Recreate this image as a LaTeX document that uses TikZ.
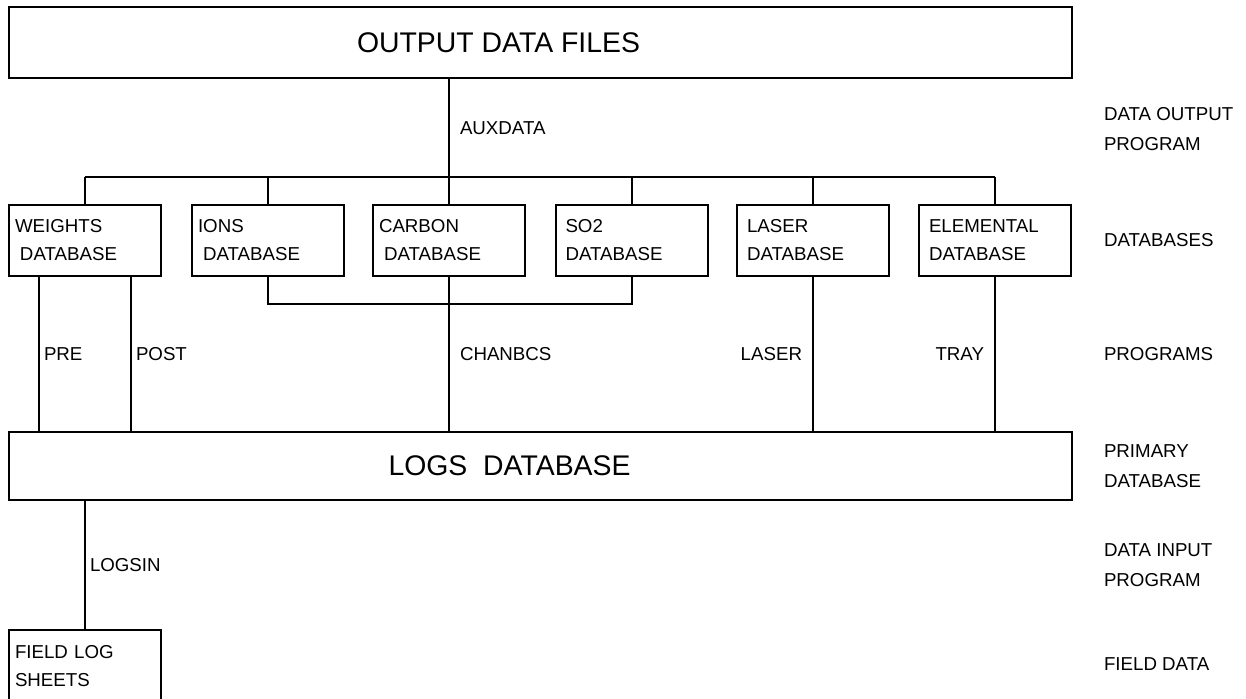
\documentclass[tikz,border=0pt]{standalone}
\usepackage{fontspec}
\setmainfont{Liberation Sans}
\begin{document}
\begin{tikzpicture}[x=1pt,y=-1pt,line width=2pt,
    small/.style={font=\fontsize{18.7}{28}\selectfont},
    big/.style={font=\fontsize{28.4}{34}\selectfont},
    db/.style={draw,small,rectangle,minimum height=71pt,text width=140pt,inner xsep=6pt,align=left},
    dbr/.style={db,text width=132pt,inner xsep=10pt},
    wide/.style={draw,rectangle,minimum width=1063pt,inner sep=0pt},
    prog/.style={small,inner sep=4pt},
    progw/.style={small,inner sep=10pt},
    side/.style={font=\fontsize{18.7}{30}\selectfont,anchor=west,align=left,inner sep=0pt}]
  \useasboundingbox (0,0) rectangle (1246,698);
  % boxes
  \node[wide,minimum height=71pt,label={[big,xshift=-42pt]center:OUTPUT DATA FILES}] (out) at (540.5,42.5) {};
  \node[db] (wdb) at (85,240.5) {WEIGHTS\\\hspace*{5pt}DATABASE};
  \node[db] (idb) at (268,240.5) {IONS\\\hspace*{5pt}DATABASE};
  \node[db] (cdb) at (449,240.5) {CARBON\\\hspace*{5pt}DATABASE};
  \node[dbr] (sdb) at (631.5,240.5) {SO2\\DATABASE};
  \node[dbr] (ldb) at (813,240.5) {LASER\\DATABASE};
  \node[dbr] (edb) at (995,240.5) {ELEMENTAL\\DATABASE};
  \node[wide,minimum height=68pt,label={[big,xshift=-31pt]center:LOGS\ \ DATABASE}] (logs) at (540.5,466) {};
  \node[db,minimum height=72pt] (field) at (85,666) {FIELD LOG\\SHEETS};
  % tiers
  \node[side] (tout) at (1103,129) {DATA OUTPUT\\PROGRAM};
  \node[side] (tdbs) at (1103,240.5) {DATABASES};
  \node[side] (tprg) at (1103,354) {PROGRAMS};
  \node[side] (tprim) at (1103,466) {PRIMARY\\DATABASE};
  \node[side] (tin) at (1103,565) {DATA INPUT\\PROGRAM};
  \node[side] (tfld) at (1103,664) {FIELD DATA};
  % connectors
  \coordinate (bus) at (0,177);
  \coordinate (pre) at ([xshift=-46pt]wdb.south);
  \coordinate (post) at ([xshift=46pt]wdb.south);
  \draw (cdb.north |- out.south) -- node[progw,right]{AUXDATA} (cdb.north |- bus);
  \draw (wdb.north |- bus) -- (edb.north |- bus);
  \foreach \b in {wdb,idb,cdb,sdb,ldb,edb}
    \draw (\b.north) -- (\b.north |- bus);
  \draw (idb.south) -- ++(0,27) -| (sdb.south);
  \draw (pre) -- node[prog,right]{PRE} (pre |- logs.north);
  \draw (post) -- node[prog,right]{POST} (post |- logs.north);
  \draw (cdb.south) -- node[progw,right]{CHANBCS} (cdb.south |- logs.north);
  \draw (ldb.south) -- node[progw,left]{LASER} (ldb.south |- logs.north);
  \draw (edb.south) -- node[progw,left]{TRAY} (edb.south |- logs.north);
  \draw (field.north) -- node[prog,right]{LOGSIN} (field.north |- logs.south);
\end{tikzpicture}
\end{document}
